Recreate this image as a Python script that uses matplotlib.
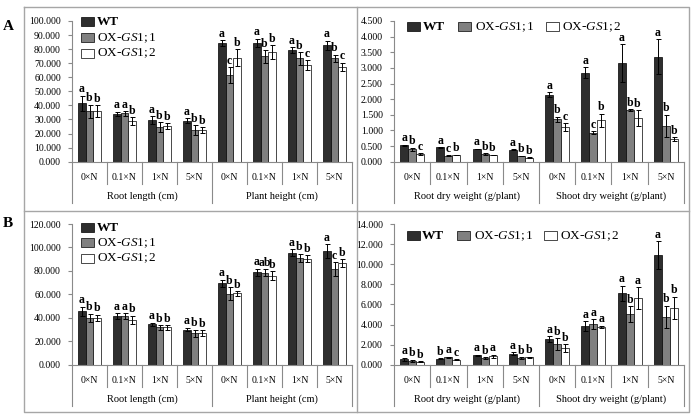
import numpy as np
import matplotlib.pyplot as plt
from matplotlib.patches import Rectangle
from matplotlib.lines import Line2D

plt.rcParams['font.family'] = ['Liberation Serif', 'DejaVu Serif']
plt.rcParams['mathtext.fontset'] = 'custom'
plt.rcParams['mathtext.rm'] = 'Liberation Serif'
plt.rcParams['mathtext.it'] = 'Liberation Serif:italic'

W, H = 692, 415

levels = ['0×N', '0.1×N', '1×N', '5×N']
series = ['WT', 'OX-$\\mathit{GS1;1}$', 'OX-$\\mathit{GS1;2}$']
colors = ['#2e2e2e', '#808080', '#ffffff']

# A, left: root length and plant height
a1_groups = ['Root length (cm)', 'Plant height (cm)']
a1_wt = [41.6, 34.0, 29.6, 29.1, 84.3, 84.5, 79.2, 82.6]
a1_gs11 = [35.7, 34.3, 24.7, 22.5, 61.5, 74.8, 73.5, 73.5]
a1_gs12 = [36.0, 28.8, 25.5, 22.6, 74.0, 77.9, 68.6, 67.3]
a1_wt_err = [5.3, 1.5, 2.8, 1.8, 2.0, 3.0, 2.0, 3.5]
a1_gs11_err = [4.8, 1.5, 3.5, 3.5, 5.5, 4.5, 4.5, 2.5]
a1_gs12_err = [4.3, 3.0, 2.0, 2.0, 6.0, 5.0, 3.5, 3.0]
a1_letters = [['a', 'a', 'a', 'a', 'a', 'a', 'a', 'a'],
              ['b', 'a', 'b', 'b', 'c', 'b', 'b', 'b'],
              ['b', 'b', 'b', 'b', 'b', 'b', 'c', 'c']]

# A, right: root and shoot dry weight
a2_groups = ['Root dry weight (g/plant)', 'Shoot dry weight (g/plant)']
a2_wt = [0.53, 0.46, 0.41, 0.39, 2.14, 2.85, 3.16, 3.36]
a2_gs11 = [0.40, 0.19, 0.25, 0.18, 1.36, 0.93, 1.65, 1.15]
a2_gs12 = [0.25, 0.22, 0.22, 0.13, 1.11, 1.32, 1.39, 0.72]
a2_wt_err = [0.02, 0.01, 0.01, 0.01, 0.08, 0.17, 0.60, 0.55]
a2_gs11_err = [0.05, 0.01, 0.02, 0.01, 0.08, 0.05, 0.02, 0.35]
a2_gs12_err = [0.03, 0.01, 0.01, 0.01, 0.12, 0.22, 0.25, 0.06]
a2_letters = [['a', 'a', 'a', 'a', 'a', 'a', 'a', 'a'],
              ['b', 'c', 'b', 'b', 'b', 'c', 'b', 'b'],
              ['c', 'b', 'b', 'b', 'c', 'b', 'b', 'b']]

# B, left: root length and plant height
b1_groups = ['Root length (cm)', 'Plant height (cm)']
b1_wt = [45.5, 41.5, 34.4, 29.9, 69.4, 78.8, 95.3, 97.0]
b1_gs11 = [40.0, 41.5, 31.9, 27.0, 60.6, 78.5, 91.0, 81.6]
b1_gs12 = [40.0, 38.4, 31.9, 27.0, 60.9, 76.0, 90.2, 86.5]
b1_wt_err = [3.8, 2.5, 1.5, 1.5, 3.0, 3.0, 3.0, 6.0]
b1_gs11_err = [3.5, 2.5, 2.0, 3.0, 5.5, 3.0, 3.5, 6.0]
b1_gs12_err = [2.5, 3.5, 2.0, 2.5, 2.0, 3.5, 3.0, 3.5]
b1_letters = [['a', 'a', 'a', 'a', 'a', 'a', 'a', 'a'],
              ['b', 'a', 'b', 'b', 'b', 'ab', 'b', 'c'],
              ['b', 'b', 'b', 'b', 'b', 'b', 'b', 'b']]

# B, right: root and shoot dry weight
b2_groups = ['Root dry weight (g/plant)', 'Shoot dry weight (g/plant)']
b2_wt = [0.53, 0.60, 0.93, 1.09, 2.55, 3.85, 7.13, 10.88]
b2_gs11 = [0.40, 0.73, 0.66, 0.63, 2.02, 4.01, 5.00, 4.78]
b2_gs12 = [0.27, 0.50, 0.83, 0.73, 1.62, 3.78, 6.60, 5.67]
b2_wt_err = [0.15, 0.05, 0.05, 0.15, 0.30, 0.50, 0.75, 1.40]
b2_gs11_err = [0.10, 0.05, 0.10, 0.10, 0.60, 0.50, 0.80, 1.10]
b2_gs12_err = [0.05, 0.03, 0.15, 0.05, 0.40, 0.10, 1.10, 1.10]
b2_letters = [['a', 'b', 'a', 'a', 'a', 'a', 'a', 'a'],
              ['b', 'a', 'b', 'b', 'b', 'a', 'b', 'b'],
              ['b', 'c', 'a', 'b', 'b', 'a', 'a', 'b']]

GRAY = '#8a8a8a'
fig = plt.figure(figsize=(W / 100, H / 100), dpi=100)


def fx(px):
    return px / W


def fy(py):
    return 1 - py / H


def draw_panel(box, ymax, ystep, groups, means, errs, letters):
    x0, x1, ytop, y0 = box
    hpx = y0 - ytop
    ax = fig.add_axes([fx(x0), fy(y0), fx(x1 - x0), (y0 - ytop) / H])
    ax.set_xlim(0, 8)
    ax.set_ylim(0, ymax)
    x = np.arange(8) + 0.5
    bw = 0.22
    for i in range(3):
        xi = x + (i - 1) * bw
        ax.bar(xi, means[i], bw, color=colors[i], edgecolor='black', linewidth=0.5, zorder=2)
        ax.errorbar(xi, means[i], yerr=errs[i], fmt='none', ecolor='black',
                    elinewidth=0.7, capsize=1.8, capthick=0.7, zorder=3)
        for xx, m, e, t in zip(xi, means[i], errs[i], letters[i]):
            ax.annotate(t, (xx, m + e), xytext=(0, 0.3), textcoords='offset points',
                        ha='center', va='bottom', fontsize=8.5, fontweight='bold')
    for s in ['top', 'right']:
        ax.spines[s].set_visible(False)
    for s in ['left', 'bottom']:
        ax.spines[s].set_color(GRAY)
        ax.spines[s].set_linewidth(0.8)
    ax.set_yticks(np.arange(0, ymax + ystep / 2, ystep))
    ax.set_yticklabels(['%.3f' % v for v in np.arange(0, ymax + ystep / 2, ystep)])
    ax.tick_params(axis='y', direction='out', length=3, width=0.8, color=GRAY,
                   labelsize=7, pad=5)
    ax.set_xticks([])
    tr = ax.get_xaxis_transform()
    for k in range(9):
        d = 41 if k in (0, 4, 8) else 22
        ax.plot([k, k], [0, -d / hpx], transform=tr, clip_on=False, color=GRAY, lw=0.8)
    for k in range(8):
        ax.text(k + 0.5, -15.5 / hpx, levels[k % 4], transform=tr,
                ha='center', va='center', fontsize=7)
    for g in range(2):
        ax.text(2 + 4 * g, -34 / hpx, groups[g], transform=tr,
                ha='center', va='center', fontsize=7.5)
    return ax


def legend_item(sx, sy, tx, i):
    fig.add_artist(Rectangle((fx(sx), fy(sy + 4.5)), fx(13), 9 / H, transform=fig.transFigure,
                             facecolor=colors[i], edgecolor='black', linewidth=0.5))
    t = fig.text(fx(tx), fy(sy), series[i], ha='left', va='center', fontsize=9.5)
    if i == 0:
        t.set_fontweight('bold')


draw_panel((72, 352, 21, 161.7), 100, 10, a1_groups,
           [a1_wt, a1_gs11, a1_gs12], [a1_wt_err, a1_gs11_err, a1_gs12_err], a1_letters)
draw_panel((394, 684, 21, 161.7), 4.5, 0.5, a2_groups,
           [a2_wt, a2_gs11, a2_gs12], [a2_wt_err, a2_gs11_err, a2_gs12_err], a2_letters)
draw_panel((72, 352, 224, 364.7), 120, 20, b1_groups,
           [b1_wt, b1_gs11, b1_gs12], [b1_wt_err, b1_gs11_err, b1_gs12_err], b1_letters)
draw_panel((394, 684, 224, 364.7), 14, 2, b2_groups,
           [b2_wt, b2_gs11, b2_gs12], [b2_wt_err, b2_gs11_err, b2_gs12_err], b2_letters)

# legends
for i, yy in enumerate([22, 38, 53.5]):
    legend_item(81, yy, 97, i)
for i, yy in enumerate([227.5, 243, 258.5]):
    legend_item(81, yy, 97, i)
for i, (sx, tx) in enumerate([(407, 423), (458, 475), (546, 562)]):
    legend_item(sx, 27, tx, i)
for i, (sx, tx) in enumerate([(407, 422), (457, 474), (544, 560)]):
    legend_item(sx, 236, tx, i)

# panel labels
fig.text(fx(8), fy(26), 'A', ha='center', va='center', fontsize=11, fontweight='bold')
fig.text(fx(8), fy(223), 'B', ha='center', va='center', fontsize=11, fontweight='bold')

# frames
FRAME = '#a6a6a6'
for xs, ys in [([24, 689, 689, 24, 24], [7, 7, 412, 412, 7]),
               ([356.5, 356.5], [7, 412]),
               ([24, 689], [211, 211])]:
    fig.add_artist(Line2D([fx(v) for v in xs], [fy(v) for v in ys],
                          transform=fig.transFigure, color=FRAME, lw=1))

fig.savefig('out.png', dpi=100)
